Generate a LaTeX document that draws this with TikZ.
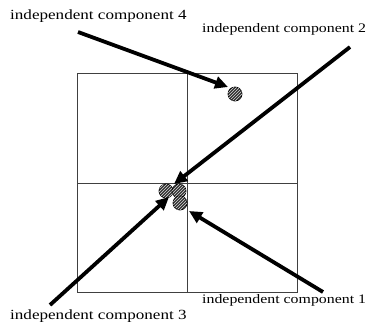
\documentclass[tikz,border=0pt]{standalone}
\usepackage{fontspec}
\setmainfont{Liberation Serif}
\usetikzlibrary{arrows.meta,patterns}
\begin{document}
\begin{tikzpicture}[x=1pt,y=-1pt,
  boxline/.style={draw=black!75, line width=0.9pt},
  comp/.style={circle, draw=black, line width=0.7pt, minimum size=14pt, inner sep=0pt,
    fill=black!80, postaction={pattern=north east lines, pattern color=white!85!black}},
  pointer/.style={line width=3.8pt, -{Triangle[length=13pt,width=12pt]}},
  lblbig/.style={anchor=base west, inner sep=0pt, font=\fontsize{14}{16}\selectfont},
  lblsmall/.style={anchor=base west, inner sep=0pt, font=\fontsize{13}{15}\selectfont}]
\useasboundingbox (0,0) rectangle (377,327);
% frame
\draw[boxline] (77,73) rectangle (297,292);
\draw[boxline] (187,73) -- (187,292);
\draw[boxline] (77,183) -- (297,183);
% components
\node[comp] (c4) at (235,94) {};
\node[comp] (ca) at (166,191) {};
\node[comp] (cb) at (179,191) {};
\node[comp] (cc) at (180,203) {};
% labels
\node[lblbig] (l4) at (10,19) {\scalebox{1.22}[1]{independent component 4}};
\node[lblsmall] (l2) at (202,32) {\scalebox{1.22}[1]{independent component 2}};
\node[lblsmall] (l1) at (202,303) {\scalebox{1.22}[1]{independent component 1}};
\node[lblbig] (l3) at (10,319) {\scalebox{1.22}[1]{independent component 3}};
% arrow ends
\coordinate (s4) at (78,32);   \coordinate (t4) at (228,87);
\coordinate (s2) at (350,47);  \coordinate (t2) at (174,184);
\coordinate (s3) at (50,305);  \coordinate (t3) at (169,197);
\coordinate (s1) at (323,292); \coordinate (t1) at (189,211);
\draw[pointer] (s4) -- (t4);
\draw[pointer] (s2) -- (t2);
\draw[pointer] (s3) -- (t3);
\draw[pointer] (s1) -- (t1);
\end{tikzpicture}
\end{document}
